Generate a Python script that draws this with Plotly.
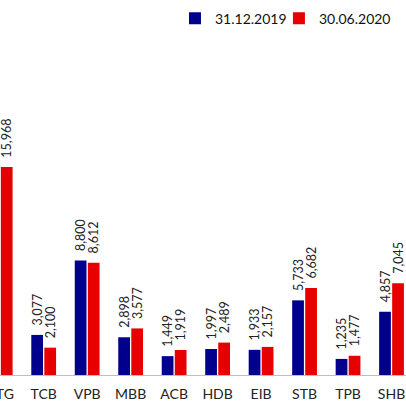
import plotly.graph_objects as go

banks = ["CTG", "TCB", "VPB", "MBB", "ACB", "HDB", "EIB", "STB", "TPB", "SHB"]
dec_2019 = [13500, 3077, 8800, 2898, 1449, 1997, 1933, 5733, 1235, 4857]
jun_2020 = [15968, 2100, 8612, 3577, 1919, 2489, 2157, 6682, 1477, 7045]
series_names = ["31.12.2019", "30.06.2020"]

BLUE = "#00008C"
RED = "#E60000"
FONT = "Lato"

fig = go.Figure()
for name, vals, col, leg in [(series_names[0], dec_2019, BLUE, "legend"),
                             (series_names[1], jun_2020, RED, "legend2")]:
    fig.add_trace(go.Bar(
        x=banks, y=vals, name=name, marker_color=col, marker_line_width=0,
        texttemplate="\u00a0\u00a0%{y:,}", textposition="outside", textangle=-90,
        constraintext="none", cliponaxis=False, legend=leg,
        textfont=dict(family=FONT, size=12.5, color="#222222"),
    ))

leg_style = dict(orientation="h", y=0.95, xanchor="left", yanchor="middle",
                 font=dict(family=FONT, size=14, color="#111111"),
                 bgcolor="rgba(0,0,0,0)", itemwidth=30)

fig.update_layout(
    width=406, height=406,
    margin=dict(l=0, r=0, t=0, b=31),
    paper_bgcolor="white", plot_bgcolor="white",
    barmode="group", bargap=0.40, bargroupgap=0.1,
    font=dict(family=FONT, color="#222222"),
    showlegend=True,
    legend=dict(x=0.431, **leg_style),
    legend2=dict(x=0.687, **leg_style),
    xaxis=dict(type="category", range=[-0.0046, 9.333], showline=True, linecolor="#BFBFBF",
               linewidth=1, ticks="", showgrid=False, zeroline=False, automargin=False,
               ticklabelstandoff=6,
               tickfont=dict(family=FONT, size=14, color="#222222")),
    yaxis=dict(range=[0, 28800], visible=False, showgrid=False, zeroline=False),
)

fig.write_html("out.html", config={"displayModeBar": False},
               post_script="document.body.style.margin='0';")
